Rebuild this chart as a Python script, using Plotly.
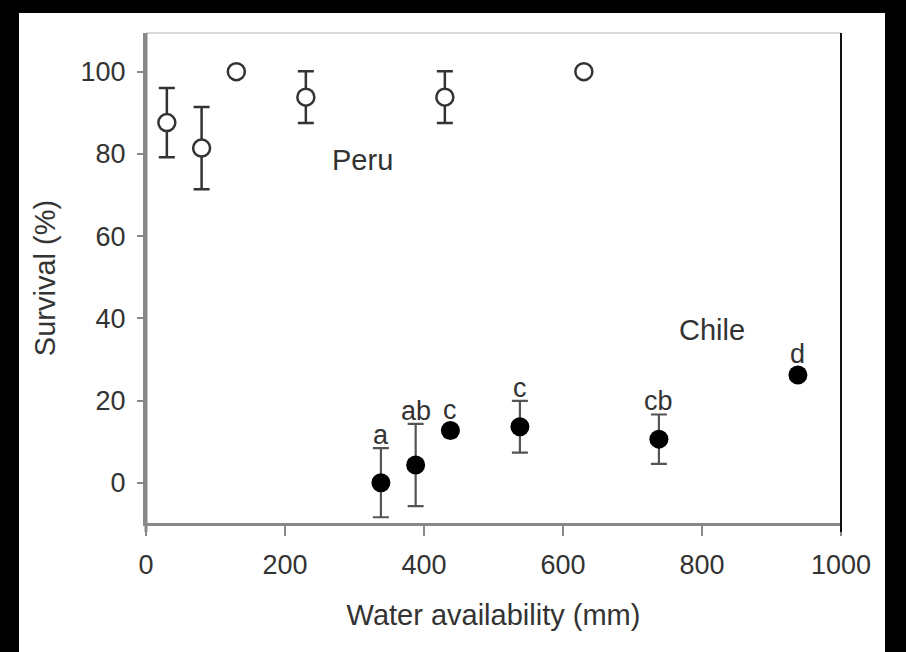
import plotly.graph_objects as go

# ---- data ----
peru_x = [30, 80, 130, 230, 430, 630]
peru_y = [87.6, 81.4, 100, 93.8, 93.8, 100]
peru_err = [8.4, 10.0, 0, 6.3, 6.3, 0]

chile_x = [338, 388, 438, 538, 738, 938]
chile_y = [0.0, 4.3, 12.7, 13.6, 10.6, 26.2]
chile_err = [8.4, 10.0, 0, 6.3, 6.0, 0]
chile_letters = ["a", "ab", "c", "c", "cb", "d"]

x_ticks = [0, 200, 400, 600, 800, 1000]
y_ticks = [0, 20, 40, 60, 80, 100]

TXT = "#333333"
FONT = "Liberation Sans, Arial, sans-serif"

fig = go.Figure()

fig.add_trace(go.Scatter(
    x=peru_x, y=peru_y, mode="markers", name="Peru",
    marker=dict(symbol="circle", size=17, color="white",
                line=dict(color="#333333", width=2.5)),
    error_y=dict(type="data", array=peru_err, visible=True,
                 color="#333333", thickness=2.5, width=8),
    showlegend=False, cliponaxis=False,
))

fig.add_trace(go.Scatter(
    x=chile_x, y=chile_y, mode="markers", name="Chile",
    marker=dict(symbol="circle", size=19, color="black",
                line=dict(color="black", width=0)),
    error_y=dict(type="data", array=chile_err, visible=True,
                 color="#555555", thickness=2.2, width=8),
    showlegend=False, cliponaxis=False,
))

annotations = []
for x, y, e, lab in zip(chile_x, chile_y, chile_err, chile_letters):
    if e > 0:
        base, shift = y + e, -4
    else:
        base, shift = y, 4
    annotations.append(dict(
        x=x, y=base, xref="x", yref="y", text=lab, showarrow=False,
        xanchor="center", yanchor="bottom", yshift=shift,
        font=dict(family=FONT, size=27, color=TXT),
    ))

annotations.append(dict(x=311.5, y=78.5, xref="x", yref="y", text="Peru",
                        showarrow=False, xanchor="center", yanchor="middle",
                        font=dict(family=FONT, size=29, color=TXT)))
annotations.append(dict(x=815, y=37.1, xref="x", yref="y", text="Chile",
                        showarrow=False, xanchor="center", yanchor="middle",
                        font=dict(family=FONT, size=29, color=TXT)))

L, R, T, B = 146, 65, 33, 129
W, H = 906, 652
pw, ph = W - L - R, H - T - B

def px_to_paper_x(px):
    return (px - L) / pw

def px_to_paper_y(py):
    return (H - B - py) / ph

shapes = [
    # white page area inside black border
    dict(type="rect", xref="paper", yref="paper", layer="below",
         x0=px_to_paper_x(19), x1=px_to_paper_x(885),
         y0=px_to_paper_y(700), y1=px_to_paper_y(13),
         fillcolor="white", line=dict(width=0)),
    # top frame line (light gray)
    dict(type="line", xref="paper", yref="paper", x0=0, x1=1, y0=1, y1=1,
         line=dict(color="#cccccc", width=1.5)),
    # right frame line (black), extends below as tick
    dict(type="line", xref="paper", yref="paper", x0=1, x1=1,
         y0=px_to_paper_y(532), y1=1,
         line=dict(color="#111111", width=2)),
    # left axis line extends below x axis
    dict(type="line", xref="paper", yref="paper", x0=0, x1=0,
         y0=px_to_paper_y(532), y1=1,
         line=dict(color="#888888", width=3)),
]

fig.update_layout(
    width=W, height=H,
    margin=dict(l=L, r=R, t=T, b=B, pad=0),
    paper_bgcolor="black",
    plot_bgcolor="white",
    font=dict(family=FONT, size=27, color=TXT),
    annotations=annotations,
    shapes=shapes,
    xaxis=dict(
        range=[0, 1000], tickvals=x_ticks, ticktext=[str(v) for v in x_ticks],
        showgrid=False, zeroline=False,
        showline=True, linecolor="#888888", linewidth=3,
        ticks="outside", ticklen=10, tickwidth=2, tickcolor="#888888",
        tickfont=dict(family=FONT, size=27, color=TXT),
        ticklabelstandoff=6,
        title=dict(text="Water availability (mm)", standoff=26,
                   font=dict(family=FONT, size=29, color=TXT)),
        fixedrange=True,
    ),
    yaxis=dict(
        range=[-9.8, 109.4], tickvals=y_ticks, ticktext=[str(v) for v in y_ticks],
        showgrid=False, zeroline=False,
        showline=True, linecolor="#888888", linewidth=3,
        ticks="outside", ticklen=6, tickwidth=2, tickcolor="#888888",
        tickfont=dict(family=FONT, size=27, color=TXT),
        ticklabelstandoff=6,
        title=dict(text="Survival (%)", standoff=17,
                   font=dict(family=FONT, size=29, color=TXT)),
        fixedrange=True,
    ),
)

fig.write_html("out.html")
